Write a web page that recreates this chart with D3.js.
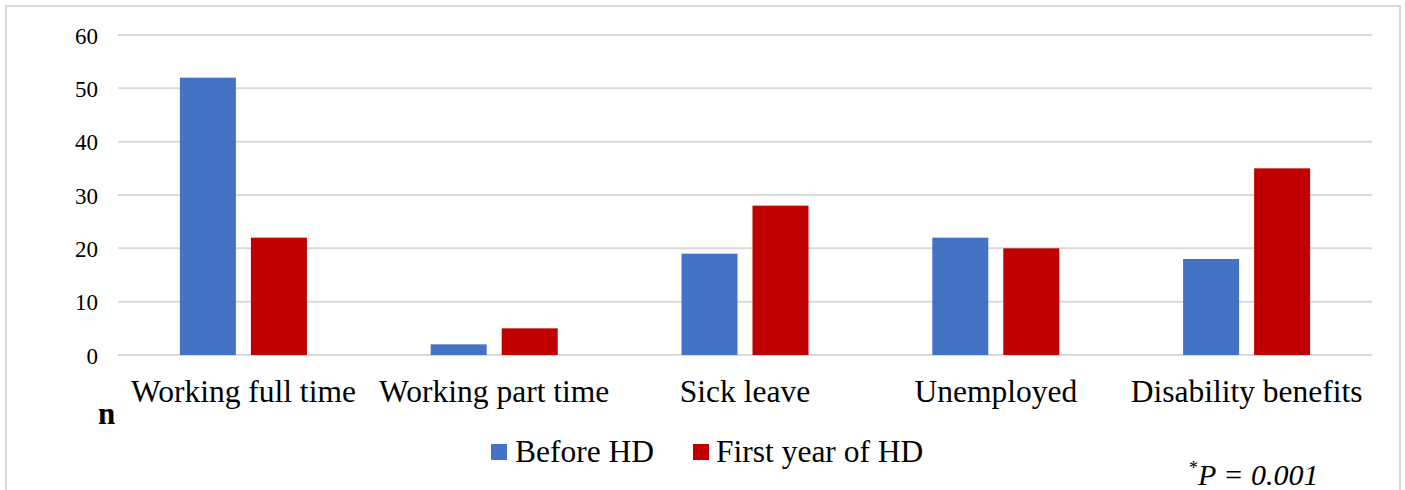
<!DOCTYPE html>
<html><head><meta charset="utf-8">
<script src="https://cdn.jsdelivr.net/npm/d3@7"></script>
<style>html,body{margin:0;padding:0;background:#fff;}svg{display:block;} text{font-family:"Liberation Serif","Times New Roman",serif;}</style>
</head><body>
<svg id="chart" width="1405" height="490"></svg>
<script>
const categories = ["Working full time", "Working part time", "Sick leave", "Unemployed", "Disability benefits"];
const seriesNames = ["Before HD", "First year of HD"];
const beforeHD = [52, 2, 19, 22, 18];
const firstYearHD = [22, 5, 28, 20, 35];
const yTicks = [0, 10, 20, 30, 40, 50, 60];
const colors = ["#4472c4", "#c00000"];

const svg = d3.select("#chart");
const font = "Liberation Serif";

// outer border
svg.append("rect").attr("x", 6).attr("y", 6).attr("width", 1394).attr("height", 500)
  .attr("fill", "none").attr("stroke", "#d9d9d9").attr("stroke-width", 2);

const x0 = d3.scaleBand().domain(categories).range([118, 1372]).paddingInner(0).paddingOuter(0);
const x1 = d3.scaleBand().domain(seriesNames).range([-63.5, 63.5]).paddingInner(2 - 127 / 71).paddingOuter(0);
const y = d3.scaleLinear().domain([0, 60]).range([355, 35]);

// gridlines
svg.append("g").selectAll("line").data(yTicks).join("line")
  .attr("x1", 118).attr("x2", 1372)
  .attr("y1", d => y(d)).attr("y2", d => y(d))
  .attr("stroke", "#d9d9d9").attr("stroke-width", 2);

// y axis labels
const yAxis = d3.axisLeft(y).tickValues(yTicks).tickSize(0).tickPadding(0);
const gy = svg.append("g").attr("transform", "translate(98,0)").call(yAxis)
  .attr("font-family", font).attr("font-size", 23);
gy.select(".domain").remove();
gy.selectAll("text").attr("fill", "#000").attr("dy", "0.35em");

// bars
const data = categories.map((c, i) => ({cat: c, vals: [beforeHD[i], firstYearHD[i]]}));
const g = svg.append("g");
data.forEach(d => {
  d.vals.forEach((v, j) => {
    const cx = x0(d.cat) + x0.bandwidth() / 2;
    g.append("rect")
      .attr("x", cx + x1(seriesNames[j]))
      .attr("y", y(v))
      .attr("width", x1.bandwidth())
      .attr("height", y(0) - y(v))
      .attr("fill", colors[j]);
  });
});

// x axis labels
const xAxis = d3.axisBottom(x0).tickSize(0).tickPadding(0);
const gx = svg.append("g").attr("transform", "translate(0,402)").call(xAxis)
  .attr("font-family", font).attr("font-size", 31.5);
gx.select(".domain").remove();
gx.selectAll("text").attr("fill", "#000").attr("dy", 0);

// n label
svg.append("text").attr("x", 98).attr("y", 424).attr("font-family", font).attr("font-size", 31)
  .attr("font-weight", "bold").text("n");

// legend
const legendItems = [{name: seriesNames[0], x: 491, tx: 515}, {name: seriesNames[1], x: 693, tx: 716}];
legendItems.forEach((l, i) => {
  svg.append("rect").attr("x", l.x).attr("y", 444).attr("width", 16).attr("height", 16).attr("fill", colors[i]);
  svg.append("text").attr("x", l.tx).attr("y", 462).attr("font-family", font).attr("font-size", 31.5).text(l.name);
});

// P value
const pt = svg.append("text").attr("x", 1189).attr("y", 485).attr("font-family", font).attr("font-size", 30);
pt.append("tspan").attr("font-size", 18).attr("dy", -11).text("*");
pt.append("tspan").attr("dy", 11).attr("font-style", "italic").text("P = 0.001");
</script>
</body></html>
